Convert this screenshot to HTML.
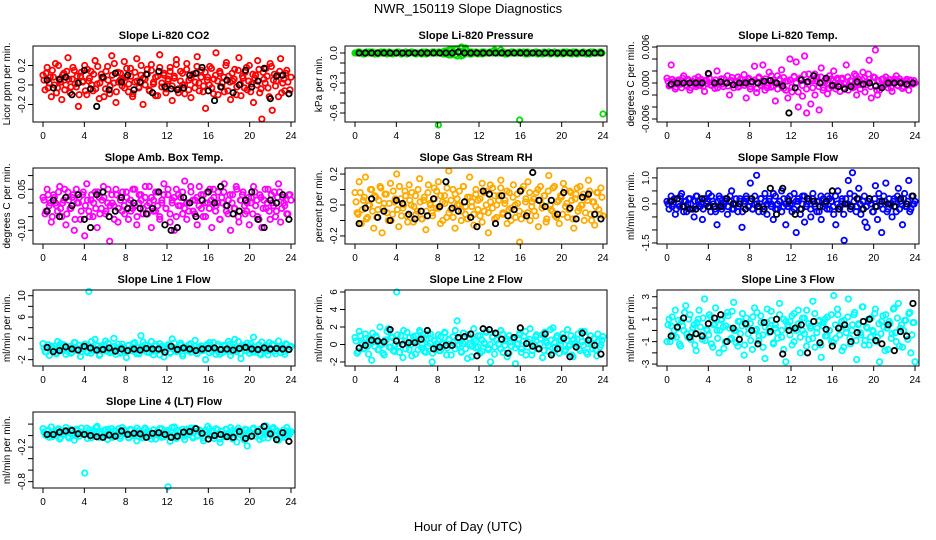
<!DOCTYPE html>
<html><head><meta charset="utf-8"><style>
html,body{margin:0;padding:0;background:#fff}
svg{display:block;font-family:"Liberation Sans",sans-serif}
</style></head><body>
<svg id="chart" width="936" height="540" viewBox="0 0 936 540" xmlns="http://www.w3.org/2000/svg">
<text x="468" y="13" text-anchor="middle" font-size="13">NWR_150119  Slope Diagnostics</text>
<text x="468" y="531" text-anchor="middle" font-size="13">Hour of Day (UTC)</text>
</svg>
<script>
const titles = ["Slope Li-820 CO2","Slope Li-820 Pressure","Slope Li-820 Temp.","Slope Amb. Box Temp.","Slope Gas Stream RH","Slope Sample Flow","Slope Line 1 Flow","Slope Line 2 Flow","Slope Line 3 Flow","Slope Line 4 (LT) Flow"];
const yTitles = ["Licor ppm per min.","kPa per min.","degrees C per min.","degrees C per min.","percent per min.","ml/min per min.","ml/min per min.","ml/min per min.","ml/min per min.","ml/min per min."];
const colors = ["#ff0000","#00e000","#ff00ff","#ff00ff","#ffaa00","#0000ff","#00ffff","#00ffff","#00ffff","#00ffff"];
const scales = [0.01,0.01,0.0001,0.01,0.01,0.1,0.1,0.1,0.1,0.01];
const domains = [[0.40,-0.38],[0.07,-0.69],[0.00617,-0.0065],[0.1277,-0.150],[0.239,-0.252],[1.38,-1.54],[11.07,-3.19],[6.23,-2.46],[3.6,-3.17],[0.41,-0.91]];
const yTicks = [[-0.2,0,0.2],[0,-0.1,-0.2,-0.3,-0.4,-0.5,-0.6],[-0.006,-0.004,-0.002,0,0.002,0.004,0.006],[-0.10,-0.05,0,0.05,0.10],[-0.2,-0.1,0,0.1,0.2],[-1.5,-1.0,-0.5,0,0.5,1.0],[-2,0,2,4,6,8,10],[-2,0,2,4,6],[-3,-2,-1,0,1,2,3],[-0.8,-0.6,-0.4,-0.2,0,0.2]];
const yTickLabels = [["-0.2","0.0","0.2"],["0.0","","","-0.3","","","-0.6"],["-0.006","","","0.000","","","0.006"],["-0.10","","","0.05",""],["-0.2","","0.0","","0.2"],["-1.5","","","0.0","","1.0"],["-2","","2","","6","","10"],["-2","0","2","4","6"],["-3","","-1","","1","","3"],["-0.8","","","-0.2","",""]];
const xTicks = [0,4,8,12,16,20,24];
const nColored = 120, nBlack = 40;

const coloredCO2 = [10,-5,18,2,-12,8,22,-3,5,-15,12,0,28,-8,6,15,-2,-22,9,3,20,-10,4,14,-6,25,1,-14,11,7,-4,19,-9,30,2,-18,13,5,-1,24,8,-7,17,-12,3,27,-3,10,-20,6,16,-5,21,1,-11,9,31,-2,12,-8,4,18,-16,7,26,-4,14,0,-9,22,5,-13,11,3,29,-6,15,-1,-24,8,19,-3,6,33,-10,12,2,-7,23,9,-15,4,16,-2,28,-11,7,13,-5,20,1,-18,10,25,-8,-35,6,17,-3,22,-26,11,4,-12,27,2,-6,15,-9,8];
const coloredCO2b = [5,12,-3,8,15,0,-8,20,3,10,-5,14,6,-2,18,1,9,-10,13,4,-6,16,7,0,11,-4,19,2,8,-12,14,5,-1,10,22,-7,3,12,6,-3,17,1,9,-9,13,4,-2,20,7,0,11,-6,15,3,8,-11,18,2,10,-4,6,14,-1,9,21,-8,4,12,0,16,-5,7,11,-3,19,2,8,-7,13,5,0,17,-9,10,4,14,-2,8,20,-6,3,12,6,-10,15,1,9,-3,18,4,-7,11,7,0,16,-4,13,2,9,-12,19,5,-1,10,14,-8,6,12,3,-5];
const blackCO2 = [5,-3,6,8,-10,2,15,-4,-22,8,-5,12,3,10,-5,3,11,-8,14,-2,-4,-5,-3,10,12,18,-6,-16,-2,5,-8,0,15,-2,4,17,-14,9,10,-9];
const coloredPressure = [0,0,1,0,-1,0,0,1,0,0,0,-1,0,0,1,0,0,0,-1,0,0,1,0,0,0,-1,0,1,0,0,0,0,-1,0,1,0,0,0,1,0,-72,0,1,-1,2,-2,3,0,-2,4,1,-3,2,5,0,-1,1,0,0,-1,0,1,0,0,0,1,0,2,0,0,3,0,-1,0,0,1,0,0,0,-67,0,1,0,-1,0,0,0,1,0,0,-1,0,0,1,0,0,0,-1,0,0,1,0,0,0,-1,0,1,0,0,0,0,-1,0,1,0,0,0,0,1,-61];
const coloredPressureb = [0,1,0,0,-1,1,0,0,1,-1,0,0,1,0,0,-1,1,0,0,0,1,0,-1,0,1,0,0,1,0,-1,0,0,1,0,-1,0,0,1,0,0,1,0,-1,2,0,3,-2,1,4,-3,2,6,-2,3,0,1,-1,0,1,0,0,-1,1,0,0,1,0,3,0,0,0,1,0,-1,0,0,1,0,0,1,0,0,-1,1,0,0,0,1,-1,0,0,1,0,0,-1,0,1,0,0,0,-1,0,1,0,0,1,0,-1,0,0,1,0,0,-1,0,1,0,0,1,0];
const blackPressure = [0,0,0,0,0,0,0,0,0,0,0,0,0,0,0,0,1,0,0,0,0,0,0,0,0,0,0,0,0,0,0,0,0,0,0,0,0,0,0,0];
const coloredTemp = [8,-5,30,2,-10,4,0,-8,12,-3,6,-12,3,0,-6,10,-4,2,-14,5,15,-3,1,-9,20,-2,7,-6,0,12,-20,4,-8,3,10,-5,0,14,-25,6,-10,2,28,-16,8,-4,30,-12,0,18,-7,5,-30,12,-2,22,-9,3,-25,40,-15,10,35,-40,6,-22,45,-50,15,-35,4,-20,10,-45,25,-8,3,-18,12,-6,20,-10,5,-14,8,-2,30,-12,4,-8,15,-20,6,-3,18,-15,2,38,-25,10,55,-20,-12,6,-4,10,-8,2,-14,7,12,-5,3,-9,0,6,-12,4,-2,0];
const coloredTempb = [3,-4,6,0,-7,5,-2,8,1,-5,4,-8,2,7,-3,0,6,-6,3,-1,8,-4,1,5,-8,2,-2,7,0,-5,4,9,-3,1,-7,6,0,-4,3,8,-6,2,5,-9,10,-3,0,7,-8,4,12,-5,1,-10,6,-2,9,-12,3,5,-7,11,0,-15,8,-4,14,-10,2,6,-8,15,3,-6,10,-12,5,0,-9,7,4,-5,8,-2,6,-8,1,10,-4,3,-7,12,0,-10,5,8,-3,15,-6,2,9,-12,4,-5,7,-3,1,6,-8,2,5,-4,7,0,-6,3,-2,5,-1,4];
const blackTemp = [-2,0,0,0,0,0,16,0,2,0,-3,0,0,2,0,3,4,0,-5,-50,-8,5,2,12,0,8,-4,-6,-10,-6,2,-2,0,-5,-8,0,0,0,-2,0];
const coloredAmb = [2,-4,5,-1,-7,3,0,-3,6,-5,1,-8,4,-2,2,-10,5,0,-6,3,-12,7,-3,1,-5,4,-9,2,-2,6,-4,0,-14,3,-1,5,-7,2,-3,-1,4,-6,1,-2,5,-8,0,3,-4,2,-1,6,-9,1,-3,4,-5,0,7,-2,3,-7,1,-10,5,-1,2,-4,8,-6,0,4,-3,1,-8,6,-2,3,-5,0,5,-9,2,-1,4,-6,0,7,-3,1,-10,3,-2,5,-7,1,4,-4,0,-8,2,6,-1,-5,3,-9,1,-2,5,-6,0,4,-3,7,-7,2,-1,-4,3,1];
const coloredAmbb = [1,-3,3,0,-5,2,-1,4,-2,0,5,-4,1,-2,3,-6,0,2,-3,4,-1,1,-5,3,0,-2,4,-4,1,2,-3,5,-1,0,-6,3,-2,1,4,-4,2,0,-3,5,-1,-5,3,1,-2,6,-4,0,2,-3,4,-1,-6,1,3,-2,5,-4,0,2,-5,3,-1,4,-2,0,-3,6,1,-4,2,-1,3,-5,0,4,-2,1,5,-3,0,-6,2,4,-1,-4,3,0,-2,6,-5,1,3,-1,-3,2,0,-4,4,1,-6,2,-2,5,0,-3,3,-1,-5,2,4,-2,0,1,-4,3];
const blackAmb = [-3,1,-5,2,-1,3,-6,-9,3,4,-5,-3,2,-2,0,-2,-4,-2,4,-8,-10,-9,2,0,-5,1,4,0,6,-1,-4,-3,1,4,-6,-9,1,0,3,-6];
const coloredRH = [8,-5,15,-12,3,18,-8,0,10,-15,5,-3,12,-18,1,7,-10,14,-6,2,20,-14,4,-2,9,-7,13,0,-11,6,-4,17,-9,3,-16,8,1,-5,11,-2,15,-12,2,6,-8,22,-3,10,-15,4,0,-10,12,-6,5,18,-1,-13,7,3,-7,14,-4,9,-18,2,11,-9,0,6,16,-5,3,-12,8,-2,13,-8,1,-24,10,-6,4,15,-10,2,-4,8,-14,12,0,6,-9,19,-3,11,-7,2,-12,5,14,-1,-8,9,3,-15,7,-4,12,0,-10,5,16,-6,2,-13,8,-3,11,-7];
const coloredRHb = [2,-6,8,-3,5,-9,0,10,-4,6,-8,3,11,-2,7,-5,1,-10,9,4,-3,12,-7,0,6,-11,3,8,-1,-6,10,2,-9,5,-4,13,0,-7,4,9,-2,6,-10,1,11,-5,3,-8,7,0,9,-4,12,-1,-9,5,2,-6,10,-3,4,-11,8,0,-5,13,-2,6,-8,3,11,-6,1,9,-3,-10,5,0,7,-4,-9,12,2,-5,8,-1,4,-7,10,3,-2,6,-11,9,0,-4,12,-8,3,6,-6,10,1,-3,8,-9,4,11,-2,0,7,-5,3,9,-10,2,-1,8,-6,5];
const blackRH = [-12,-2,4,-8,-4,-10,3,1,-6,-9,-4,-7,4,-1,15,-2,-4,2,-8,-14,9,7,-12,6,-7,-3,9,-7,21,3,-1,3,-6,8,-2,-9,5,7,-6,-9];
const coloredSample = [1,-2,3,0,-4,2,-1,4,-3,1,0,2,-2,-5,3,1,-1,-6,2,0,4,-3,1,-2,-8,3,0,-1,2,-4,1,5,-2,0,-3,2,-9,1,3,-1,8,-2,0,11,-3,2,-1,4,-4,1,0,-6,3,-2,1,5,-1,-8,2,0,-3,4,-11,1,-2,3,-7,0,2,-5,4,-1,1,-3,-6,2,0,3,-2,1,-4,-8,5,-1,2,-14,0,9,-2,12,3,-1,6,-4,1,-7,-9,2,0,-3,7,-6,1,-11,3,8,-2,0,-5,2,-3,6,1,-8,4,-1,9,-2,0,1];
const coloredSampleb = [0,1,-1,2,-2,0,3,-1,1,-3,2,0,-2,1,3,-1,0,-2,2,1,-1,3,0,-3,1,2,-2,0,1,-1,3,-2,0,2,-1,1,-3,0,2,-1,1,-2,3,0,-1,2,-3,1,0,2,-1,4,-2,0,1,-3,2,0,-1,3,0,-2,1,2,-4,0,3,-1,1,-2,2,0,-3,1,3,-1,0,-2,2,1,-1,3,0,-2,1,-4,2,0,4,-1,1,-3,2,0,-2,3,-1,1,0,-3,2,-1,4,0,-2,1,-3,2,0,1,-1,3,-2,0,2,-1,1,-3,3,0];
const blackSample = [1,2,-1,-2,-2,2,-1,-1,-1,2,0,0,-2,2,-1,-2,6,-4,6,1,-4,-2,2,1,-1,1,5,-2,0,-1,2,-2,2,-1,1,0,-1,2,0,3];
const coloredLine1 = [10,-5,3,-12,6,0,-8,14,2,-3,8,-10,1,5,-6,12,-2,0,-14,4,9,-4,108,-8,2,18,-1,-12,6,0,15,-3,-7,4,20,-10,2,-5,9,-1,-16,6,0,-4,12,-9,3,25,-2,8,-6,0,14,-11,5,-3,10,-1,-15,4,7,-8,19,2,-5,0,11,-13,3,-2,8,-6,1,16,-9,4,-3,0,-20,6,12,-4,2,-10,9,0,-7,5,-2,14,-12,3,18,-5,0,-18,7,-3,11,-8,4,22,-6,1,-9,13,-2,6,-11,2,9,-4,0,15,-7,3,-10,8,-1,5];
const coloredLine1b = [2,-6,8,0,-3,5,-9,3,10,-1,6,-4,1,-8,4,12,-2,7,-5,0,9,-7,3,14,-3,0,6,-10,2,8,-4,11,0,-6,5,-2,9,-8,3,1,-5,7,0,10,-3,4,-9,2,13,-1,6,-7,1,-4,9,0,-11,5,3,-2,8,-6,2,11,-3,0,7,-9,4,1,-4,10,-1,5,-8,2,6,-3,0,9,-7,3,12,-2,5,-10,1,7,-4,0,9,-5,3,-1,14,-8,2,6,-3,0,10,-6,4,-2,8,-11,1,5,-4,12,-1,7,-9,3,0,6,-5,10,-2,4];
const blackLine1 = [3,-5,-3,4,0,-2,5,2,-2,-1,2,-4,0,-3,0,-2,1,0,0,-6,5,-1,2,0,-3,0,1,2,-1,0,-2,1,3,0,-1,2,0,1,0,-1];
const coloredLine2 = [8,-10,15,2,-5,12,-2,6,-18,3,10,-6,20,0,-12,5,18,-3,8,-8,60,-2,10,-15,4,14,-6,0,9,-11,3,16,-4,7,-9,12,1,-20,5,-3,11,-7,2,14,-12,6,-1,9,-5,27,0,-8,13,3,-16,7,-2,18,-4,10,-10,5,1,15,-6,-20,8,-3,12,0,16,-9,4,-14,10,-2,6,-22,1,13,-5,9,-12,3,18,-7,0,11,-4,7,-15,14,2,-8,5,19,-3,10,-10,4,8,-6,17,0,-12,6,-2,12,-7,3,15,-9,1,10,-5,7,-13,4,0,9];
const coloredLine2b = [4,-8,10,0,-4,7,-11,3,13,-2,8,-6,1,-10,5,15,-3,9,-7,0,11,-9,4,16,-5,0,8,-13,3,10,-6,14,0,-8,6,-2,12,-10,4,1,-7,9,0,13,-4,5,-12,2,16,-1,7,-9,1,-5,11,0,-14,6,4,-3,10,-8,2,14,-4,0,9,-11,5,1,-5,12,-1,6,-10,3,8,-4,0,11,-9,4,15,-3,6,-12,1,9,-5,0,11,-7,4,-1,17,-10,2,8,-4,0,12,-8,5,-2,10,-14,1,6,-5,15,-1,9,-11,4,0,7,-6,12,-3,5];
const blackLine2 = [-4,-1,5,4,3,17,4,0,2,2,6,16,-5,-3,-1,-1,8,9,12,-13,18,17,13,6,-10,8,19,1,-2,-5,12,-12,-5,7,-14,-3,13,5,-1,-11];
const coloredLine3 = [-10,10,4,-5,18,2,-12,8,0,22,-6,14,-2,5,-18,10,3,-8,28,1,-4,12,-15,6,0,-20,9,3,-10,16,2,-7,25,0,-14,8,4,-22,11,-3,6,-17,20,1,-9,13,-4,-25,7,2,17,-11,5,-2,24,-6,10,-28,3,8,-13,15,0,6,-20,11,-3,18,-8,4,26,-15,2,9,-24,7,-5,12,0,-10,31,-7,14,3,-18,9,-2,28,-12,5,16,-26,6,-4,21,-9,2,-13,11,-1,19,-6,-28,8,3,14,-17,6,-3,20,-10,24,2,-15,9,-5,15,-20,7,-28];
const coloredLine3b = [5,-10,12,0,-6,9,-14,4,16,-3,10,-8,2,-13,7,18,-4,11,-9,0,14,-12,5,20,-7,0,10,-16,4,13,-8,17,0,-11,8,-3,15,-13,5,2,-9,12,0,16,-5,7,-15,3,19,-2,9,-12,2,-7,14,0,-17,8,5,-4,13,-10,3,18,-6,0,11,-14,6,2,-7,15,-2,8,-13,4,10,-5,0,14,-11,5,19,-4,8,-15,2,12,-7,0,14,-9,5,-2,21,-13,3,10,-6,0,15,-10,6,-3,13,-18,2,8,-7,19,-2,11,-14,5,0,9,-8,16,-4,7];
const blackLine3 = [-5,3,11,-6,-3,-5,6,11,14,-10,2,-8,6,0,-12,7,-1,10,-21,0,2,5,-20,8,-11,1,-14,2,5,-10,-2,8,10,-9,-12,5,-18,-1,-5,24];
const coloredLine4 = [12,2,8,-3,15,5,0,10,-6,7,3,14,-2,9,1,-8,11,4,6,6,-65,13,3,-4,8,2,16,-3,6,0,10,-7,4,12,-2,8,1,-5,14,3,7,-3,11,0,5,-9,9,2,-4,13,6,-1,3,10,-6,5,4,12,-2,8,-89,-10,6,15,-3,9,0,4,-7,11,2,13,-4,7,-1,10,3,-9,6,16,0,8,-5,12,3,-12,7,-2,10,1,14,-6,5,-11,9,2,-3,11,-18,6,4,13,-1,8,-7,10,2,17,-4,6,12,0,9,-8,5,3,-3,14,1,7];
const coloredLine4b = [6,0,10,3,-2,8,5,12,-3,7,2,9,-4,11,4,0,8,-1,13,5,3,-5,10,6,1,14,-2,7,4,9,0,11,5,-3,8,2,12,-1,6,10,4,-4,9,1,7,13,-2,5,0,11,8,3,-6,10,5,1,12,-3,7,4,9,0,14,2,-5,8,6,11,-1,3,10,5,-2,13,0,7,4,-4,9,2,12,-1,6,3,10,-6,8,1,11,4,0,9,-3,7,13,2,5,-8,10,6,-2,11,4,8,0,12,-4,6,3,9,1,14,-1,7,5,-3,10,2,8,4];
const blackLine4 = [2,2,6,8,9,3,2,0,-2,-3,1,-1,8,2,4,3,-3,4,5,2,-3,-1,6,7,12,4,-6,0,2,-2,-3,7,-5,-1,7,16,3,-7,5,-10];

const coloredSets = [coloredCO2,coloredPressure,coloredTemp,coloredAmb,coloredRH,coloredSample,coloredLine1,coloredLine2,coloredLine3,coloredLine4];
const coloredSetsB = [coloredCO2b,coloredPressureb,coloredTempb,coloredAmbb,coloredRHb,coloredSampleb,coloredLine1b,coloredLine2b,coloredLine3b,coloredLine4b];
const blackSets = [blackCO2,blackPressure,blackTemp,blackAmb,blackRH,blackSample,blackLine1,blackLine2,blackLine3,blackLine4];

const NS = "http://www.w3.org/2000/svg";
const svg = document.getElementById("chart");
const colLeft = [33,345,657], rowTop = [46,168,290,412], W = 262, H = 76;
function mk(tag, attrs, parent){const e=document.createElementNS(NS,tag);for(const k in attrs)e.setAttribute(k,attrs[k]);parent.appendChild(e);return e;}

titles.forEach((title, p) => {
  const L = colLeft[p % 3], T = rowTop[Math.floor(p / 3)];
  const [vt, vb] = domains[p];
  const xs = h => L + 10 + h / 24 * 248;
  const ys = v => T + (vt - v) / (vt - vb) * H;
  const g = mk("g", {}, svg);
  
  
  const t = mk("text", {x: L + W / 2, y: T - 7, "text-anchor": "middle", "font-size": "11", "font-weight": "bold"}, g);
  t.textContent = title;
  
  
  const yt = mk("text", {transform: `translate(${L - 23},${T + H / 2}) rotate(-90)`, "text-anchor": "middle", "font-size": "10"}, g);
  yt.textContent = yTitles[p];
  
  
  const pts = mk("g", {fill: "none", "stroke-width": "1.8"}, g);
  
  
  coloredSets[p].forEach((v, i) => {
    const h = i * 24 / (nColored - 1);
    const c = mk("circle", {cx: xs(h), cy: ys(v * scales[p]), r: 2.7, stroke: colors[p]}, pts);
    
    
  });
  coloredSetsB[p].forEach((v, i) => {
    const h = (i + 0.5) * 24 / nColored;
    const c = mk("circle", {cx: xs(h), cy: ys(v * scales[p]), r: 2.7, stroke: colors[p]}, pts);
    
    
  });
  blackSets[p].forEach((v, i) => {
    const h = 0.4 + i * 23.4 / (nBlack - 1);
    const c = mk("circle", {cx: xs(h), cy: ys(v * scales[p]), r: 2.7, stroke: "#000"}, pts);
    
    
  });
  const box = mk("rect", {x: L, y: T, width: W, height: H, fill: "none", stroke: "#000", "stroke-width": "1"}, g);
  
  
  xTicks.forEach(h => {
    mk("line", {x1: xs(h), x2: xs(h), y1: T + H, y2: T + H + 5, stroke: "#000"}, g);
    const tl = mk("text", {x: xs(h), y: T + H + 17, "text-anchor": "middle", "font-size": "10"}, g);
    tl.textContent = h;
    
    
  });
  yTicks[p].forEach((v, i) => {
    const y = ys(v);
    mk("line", {x1: L - 5, x2: L, y1: y, y2: y, stroke: "#000"}, g);
    const lab = yTickLabels[p][i];
    if (lab) {
      const tl = mk("text", {transform: `translate(${L - 8},${y}) rotate(-90)`, "text-anchor": "middle", "font-size": "10"}, g);
      tl.textContent = lab;
      
      
    }
  });
});
</script>
</body></html>
